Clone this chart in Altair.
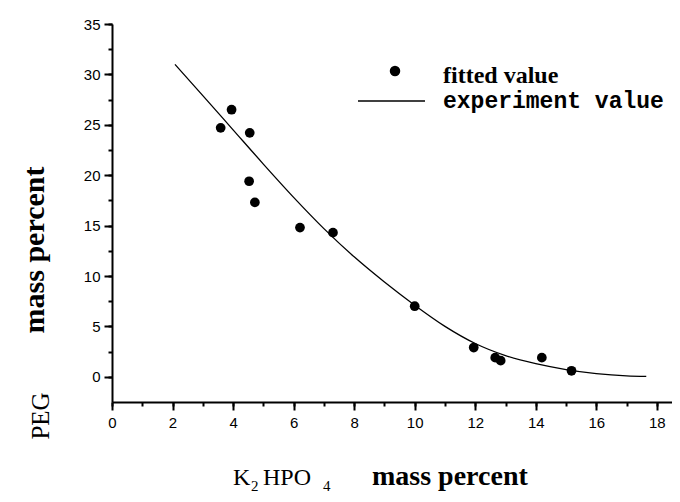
import altair as alt
import pandas as pd

# ---- data ----
fitted_x = [3.59, 3.95, 4.55, 4.53, 4.72, 6.21, 7.30, 10.00, 11.95, 12.66, 12.84, 14.20, 15.18]
fitted_y = [24.7, 26.5, 24.2, 19.4, 17.3, 14.8, 14.3, 7.0, 2.9, 1.9, 1.6, 1.9, 0.6]

exp_x = [2.08, 3.0, 4.0, 5.0, 6.0, 7.0, 8.0, 9.0, 10.0, 11.0, 12.0, 13.0, 14.0, 15.0, 16.0, 17.0, 17.65]
exp_y = [31.0, 27.9, 24.5, 21.1, 17.8, 14.7, 11.9, 9.4, 7.1, 5.0, 3.3, 2.1, 1.3, 0.72, 0.32, 0.1, 0.05]

x_major = [0, 2, 4, 6, 8, 10, 12, 14, 16, 18]
x_minor = list(range(0, 19))
y_major = [0, 5, 10, 15, 20, 25, 30, 35]
y_minor = [0, 2.5, 5, 7.5, 10, 12.5, 15, 17.5, 20, 22.5, 25, 27.5, 30, 32.5, 35]
legend_labels = ["fitted value", "experiment value"]
x_title_parts = ["K", "2", "HPO", "4", "mass percent"]
y_title_parts = ["PEG", "mass percent"]

fitted = pd.DataFrame({"x": fitted_x, "y": fitted_y})
exper = pd.DataFrame({"x": exp_x, "y": exp_y})
one = pd.DataFrame({"a": [0]})

xscale = alt.Scale(domain=[0, 18.5], nice=False, zero=False)
yscale = alt.Scale(domain=[-2.5, 35], nice=False, zero=False)

common = dict(title=None, grid=False, labelFont="Liberation Sans", labelFontSize=15,
              labelColor="black", domainColor="black", domainWidth=2, tickColor="black",
              tickWidth=2, labelFlush=False, labelOverlap=False)

xaxis = alt.Axis(values=x_major, tickSize=8, labelPadding=5, orient="bottom", **common)
yaxis = alt.Axis(values=y_major, tickSize=8, labelPadding=4, orient="left", **common)
xaxis_minor = alt.Axis(values=x_minor, tickSize=4, labels=False, domain=False, orient="bottom", **common)
yaxis_minor = alt.Axis(values=y_minor, tickSize=4, labels=False, domain=False, orient="left", **common)

line = alt.Chart(exper).mark_line(color="black", strokeWidth=1.3, interpolate="monotone").encode(
    x=alt.X("x:Q", scale=xscale, axis=xaxis),
    y=alt.Y("y:Q", scale=yscale, axis=yaxis),
)
pts = alt.Chart(fitted).mark_point(filled=True, color="black", size=95, opacity=1).encode(
    x=alt.X("x:Q", scale=xscale, axis=xaxis_minor),
    y=alt.Y("y:Q", scale=yscale, axis=yaxis_minor),
)

# legend
leg_dot = alt.Chart(one).mark_point(filled=True, color="black", size=110, opacity=1).encode(
    x=alt.value(283), y=alt.value(47))
leg_line = alt.Chart(one).mark_rule(color="black", strokeWidth=1.3).encode(
    x=alt.value(246), x2=alt.value(313), y=alt.value(77))


def txt(s, x, y, font, size, weight="normal", angle=0, align="left"):
    return alt.Chart(one).mark_text(align=align, baseline="alphabetic", font=font, fontSize=size,
                                    fontWeight=weight, angle=angle, color="black").encode(
        x=alt.value(x), y=alt.value(y), text=alt.value(s))


leg_t1 = txt(legend_labels[0], 331, 59, "Liberation Serif", 24, "bold")
leg_t2 = txt(legend_labels[1], 331, 84, "Liberation Mono", 23, "bold")

xt = [
    txt(x_title_parts[0], 121, 461, "Liberation Serif", 24),
    txt(x_title_parts[1], 139, 467, "Liberation Serif", 15),
    txt(x_title_parts[2], 151, 461, "Liberation Serif", 24),
    txt(x_title_parts[3], 211, 467, "Liberation Serif", 15),
    txt(x_title_parts[4], 260, 461, "Liberation Serif", 28, "bold"),
]
yt = [
    txt(y_title_parts[0], -63, 392, "Liberation Serif", 25, "normal", 270, "center"),
    txt(y_title_parts[1], -68, 226, "Liberation Serif", 30, "bold", 270, "center"),
]

chart = alt.layer(line, pts, leg_dot, leg_line, leg_t1, leg_t2, *xt, *yt).resolve_axis(
    x="independent", y="independent"
).properties(
    width=560, height=378,
    autosize=alt.AutoSizeParams(type="none"),
    padding={"left": 104, "top": 16, "right": 0, "bottom": 92},
    background="white",
).configure_view(stroke=None)

chart.save("out.html", embed_options={"renderer": "svg", "actions": False})
